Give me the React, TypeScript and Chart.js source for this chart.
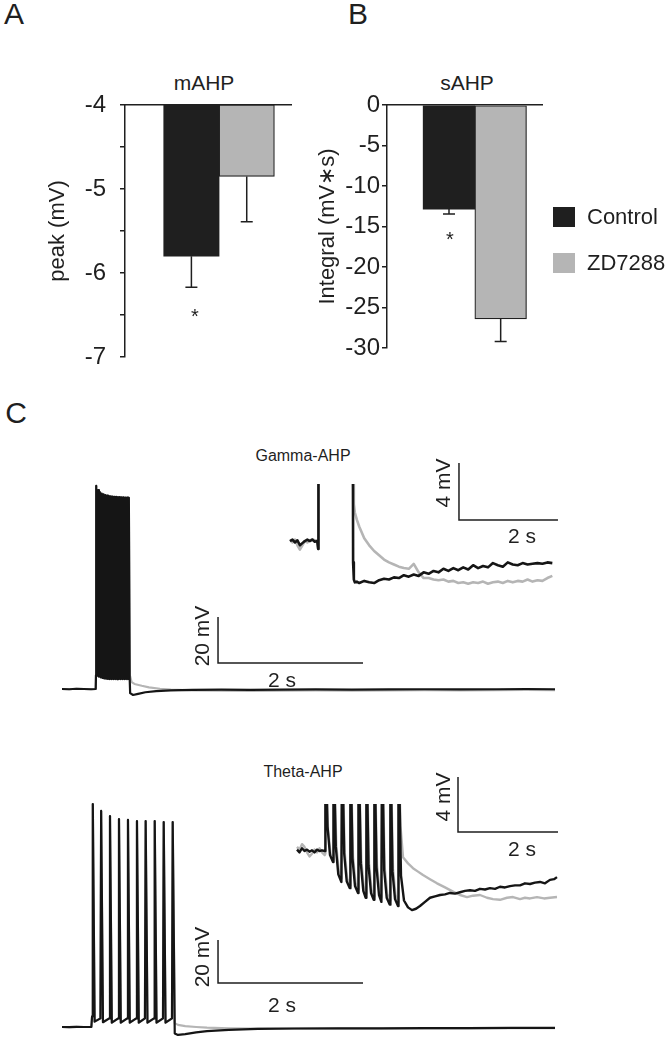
import React, { useEffect, useRef } from 'react';
import { Chart, registerables } from 'chart.js';

Chart.register(...registerables);

const FONT = '"Liberation Sans", Arial, Helvetica, sans-serif';
const INK = '#1f1f1f';
const GREY = '#b5b5b5';

// ---------- Panels A & B (bar charts) ----------
const groups = ['Control', 'ZD7288'];
const groupPositions = [1.2, 2.2];
const groupColors = [INK, GREY];
const mahpMeans = [-5.8, -4.85];
const mahpSem = [0.37, 0.54];
const sahpMeans = [-12.85, -26.4];
const sahpSem = [0.6, 2.8];

// ---------- Panel C traces: [time (s), membrane potential (mV)] ----------
const gammaPre: [number, number][] = [[0, -65], [0.1, -65.1], [0.2, -64.9], [0.3, -65.0], [0.4, -65.1], [0.465, -65.0], [0.469, -58.9]];
const gammaBurst: [number, number][] = [
  [0.472, 23.3], [0.484, -59.2], [0.497, 21.5], [0.509, -59.6], [0.522, 20.6], [0.534, -59.9], [0.547, 20.0], [0.559, -60.2],
  [0.572, 19.6], [0.584, -60.4], [0.597, 19.3], [0.609, -60.5], [0.622, 19.1], [0.634, -60.6], [0.647, 18.9], [0.659, -60.7],
  [0.672, 18.8], [0.684, -60.7], [0.697, 18.7], [0.709, -60.7], [0.722, 18.6], [0.734, -60.7], [0.747, 18.5], [0.759, -60.7],
  [0.772, 18.4], [0.784, -60.7], [0.797, 18.4], [0.809, -60.7], [0.822, 18.3], [0.834, -60.7], [0.847, 18.3], [0.859, -60.7],
  [0.872, 18.2], [0.884, -60.7], [0.897, 18.2], [0.909, -60.7], [0.922, 18.1], [0.934, -60.7],
];
const gammaControlPost: [number, number][] = [[0.94, -66.8], [0.98, -67.6], [1.05, -67.1], [1.15, -66.4], [1.3, -65.9], [1.5, -65.6], [1.8, -65.4], [2.2, -65.3], [2.6, -65.4], [3.0, -65.3], [3.5, -65.2], [4.0, -65.3], [4.5, -65.2], [5.0, -65.1], [5.5, -65.2], [6.0, -65.1], [6.4, -65.0], [6.8, -65.1]];
const gammaZDPost: [number, number][] = [[0.94, -59.5], [0.96, -62.0], [1.0, -62.8], [1.1, -63.6], [1.2, -64.3], [1.35, -64.9], [1.5, -65.3], [1.8, -65.6], [2.2, -65.7], [2.6, -65.8], [3.0, -65.7], [3.5, -65.6], [4.0, -65.7], [4.5, -65.6], [5.0, -65.5], [5.5, -65.6], [6.0, -65.5], [6.4, -65.4], [6.8, -65.5]];

const gammaInsetControl: [number, number | null][] = [
  [0, 0], [0.05, 0.1], [0.1, -0.1], [0.15, 0.05], [0.2, -0.3], [0.25, -0.15], [0.3, 0], [0.35, 0.1], [0.4, 0], [0.45, 0.1], [0.5, -0.05], [0.55, 0], [0.57, -0.56], [0.575, 8],
  [0.9, null],
  [1.27, 8], [1.275, -1.5], [1.29, -2.7], [1.31, -2.9], [1.35, -2.85], [1.4, -2.95], [1.5, -2.8], [1.6, -2.9], [1.7, -2.95], [1.8, -2.75], [1.9, -2.65], [2.0, -2.7], [2.1, -2.55], [2.2, -2.6], [2.3, -2.4], [2.4, -2.5], [2.5, -2.35], [2.6, -2.45], [2.7, -2.2], [2.8, -2.3], [2.9, -2.1], [3.0, -2.2], [3.1, -1.95], [3.2, -2.1], [3.3, -1.9], [3.4, -2.05], [3.5, -1.85], [3.6, -2.0], [3.7, -1.7], [3.8, -1.9], [3.9, -1.75], [4.0, -1.85], [4.1, -1.55], [4.2, -1.7], [4.3, -1.8], [4.4, -1.5], [4.5, -1.65], [4.6, -1.7], [4.7, -1.55], [4.8, -1.65], [4.9, -1.6], [5.0, -1.55], [5.1, -1.6], [5.2, -1.5], [5.3, -1.55],
];
const gammaInsetZD: [number, number | null][] = [
  [0, 0.1], [0.05, -0.1], [0.1, 0.1], [0.15, -0.3], [0.2, -0.6], [0.25, -0.3], [0.3, 0], [0.35, -0.1], [0.4, 0.05], [0.45, 0.1], [0.5, 0.05], [0.55, 0], [0.57, -0.56], [0.575, 8],
  [0.9, null],
  [1.27, 8], [1.275, 4], [1.29, 2.6], [1.31, 2.0], [1.35, 1.5], [1.4, 1.0], [1.5, 0.2], [1.6, -0.3], [1.7, -0.7], [1.8, -1.0], [1.9, -1.3], [2.0, -1.5], [2.1, -1.65], [2.2, -1.8], [2.3, -1.9], [2.4, -1.95], [2.5, -1.6], [2.6, -2.2], [2.7, -2.6], [2.8, -2.6], [2.9, -2.7], [3.0, -2.75], [3.1, -2.7], [3.2, -2.85], [3.3, -2.8], [3.4, -2.95], [3.5, -2.9], [3.6, -3.0], [3.7, -2.9], [3.8, -2.95], [3.9, -2.85], [4.0, -3.0], [4.1, -2.9], [4.2, -2.85], [4.3, -2.95], [4.4, -2.8], [4.5, -2.9], [4.6, -2.8], [4.7, -2.85], [4.8, -2.7], [4.9, -2.85], [5.0, -2.75], [5.1, -2.8], [5.2, -2.6], [5.3, -2.45],
];

const thetaPre: [number, number][] = [[0, -65], [0.1, -65.1], [0.2, -64.9], [0.3, -65.0], [0.405, -65.0]];
const thetaBurst: [number, number][] = [
  [0.415, -60], [0.425, 38.7], [0.45, -62.5],
  [0.53, -61], [0.54, 35.5], [0.565, -62.8],
  [0.652, -61], [0.662, 33.1], [0.687, -63],
  [0.776, -61], [0.786, 31.7], [0.811, -63],
  [0.9, -61], [0.91, 31.3], [0.935, -63],
  [1.024, -61], [1.034, 30.8], [1.059, -63],
  [1.144, -61], [1.154, 30.8], [1.179, -63],
  [1.269, -61], [1.279, 30.8], [1.304, -63],
  [1.393, -61], [1.403, 30.3], [1.428, -63],
  [1.517, -61], [1.527, 30.3],
];
const thetaControlPost: [number, number][] = [[1.555, -68.0], [1.6, -68.7], [1.7, -68.3], [1.85, -67.5], [2.0, -66.9], [2.3, -66.3], [2.7, -65.9], [3.2, -65.7], [3.8, -65.6], [4.4, -65.6], [5.0, -65.5], [5.6, -65.5], [6.2, -65.4], [6.8, -65.4]];
const thetaZDPost: [number, number][] = [[1.555, -63.2], [1.6, -64.0], [1.7, -64.6], [1.85, -65.0], [2.0, -65.3], [2.3, -65.6], [2.7, -65.8], [3.2, -65.8], [3.8, -65.7], [4.4, -65.7], [5.0, -65.6], [5.6, -65.6], [6.2, -65.5], [6.8, -65.5]];

const thetaInsetControl: [number, number][] = [
  [0, 0.1], [0.05, -0.1], [0.1, 0.2], [0.15, 0.0], [0.2, 0.1], [0.25, -0.05], [0.3, 0.05], [0.35, -0.1], [0.4, 0.1], [0.45, 0.0], [0.5, 0.05], [0.555, 0.0],
  [0.56, 0.0], [0.568, 8], [0.61, 1.8], [0.66, -0.3], [0.72, -0.8],
  [0.726, -0.8], [0.734, 8], [0.776, 0.3], [0.826, -1.7], [0.888, -2.25],
  [0.894, -2.25], [0.902, 8], [0.944, -0.2], [0.994, -2.2], [1.054, -2.7],
  [1.06, -2.7], [1.068, 8], [1.11, -0.55], [1.16, -2.55], [1.22, -3.05],
  [1.226, -3.05], [1.234, 8], [1.276, -0.9], [1.326, -2.9], [1.374, -3.4],
  [1.38, -3.4], [1.388, 8], [1.43, -1.05], [1.48, -3.05], [1.534, -3.55],
  [1.54, -3.55], [1.548, 8], [1.59, -1.2], [1.64, -3.2], [1.688, -3.7],
  [1.694, -3.7], [1.702, 8], [1.744, -1.4], [1.794, -3.4], [1.854, -3.9],
  [1.86, -3.9], [1.868, 8], [1.91, -1.5], [1.96, -3.5], [2.02, -4.0],
  [2.026, -4.0], [2.034, 8],
  [2.08, -1.8], [2.14, -3.6], [2.22, -4.1], [2.3, -4.3], [2.38, -4.2], [2.46, -4.0], [2.56, -3.7], [2.66, -3.4], [2.76, -3.3], [2.86, -3.2], [2.96, -3.15], [3.06, -3.05], [3.16, -3.1], [3.26, -3.0], [3.36, -2.9], [3.46, -2.85], [3.56, -2.9], [3.66, -2.75], [3.76, -2.8], [3.86, -2.7], [3.96, -2.75], [4.06, -2.6], [4.16, -2.65], [4.26, -2.55], [4.36, -2.5], [4.46, -2.5], [4.56, -2.35], [4.66, -2.4], [4.76, -2.3], [4.86, -2.25], [4.96, -2.35], [5.06, -2.1], [5.14, -2.05], [5.2, -1.9],
];
const thetaInsetZD: [number, number][] = [
  [0, 0.3], [0.05, 0.1], [0.1, 0.5], [0.15, 0.3], [0.2, -0.1], [0.25, -0.4], [0.3, -0.2], [0.35, 0.1], [0.4, -0.1], [0.45, 0.2], [0.5, -0.1], [0.555, -0.3],
  [0.56, -0.2], [0.568, 8], [0.62, 1.6], [0.67, -0.2], [0.72, -0.6],
  [0.726, -0.6], [0.734, 8], [0.786, 0.4], [0.836, -1.5], [0.888, -2.0],
  [0.894, -2.0], [0.902, 8], [0.954, -0.1], [1.004, -2.0], [1.054, -2.5],
  [1.06, -2.5], [1.068, 8], [1.12, -0.4], [1.17, -2.3], [1.22, -2.8],
  [1.226, -2.8], [1.234, 8], [1.286, -0.7], [1.336, -2.6], [1.374, -3.1],
  [1.38, -3.1], [1.388, 8], [1.44, -0.9], [1.49, -2.8], [1.534, -3.3],
  [1.54, -3.3], [1.548, 8], [1.6, -1.0], [1.65, -2.9], [1.688, -3.4],
  [1.694, -3.4], [1.702, 8], [1.754, -1.2], [1.804, -3.1], [1.854, -3.6],
  [1.86, -3.6], [1.868, 8], [1.92, -1.3], [1.97, -3.2], [2.02, -3.7],
  [2.026, -3.7], [2.034, 8],
  [2.07, 1.8], [2.12, -0.45], [2.22, -0.9], [2.32, -1.25], [2.42, -1.5], [2.52, -1.75], [2.66, -2.05], [2.8, -2.35], [2.96, -2.65], [3.12, -2.95], [3.26, -3.2], [3.4, -3.35], [3.52, -3.25], [3.66, -3.2], [3.8, -3.4], [3.92, -3.5], [4.06, -3.55], [4.2, -3.4], [4.32, -3.35], [4.46, -3.5], [4.56, -3.4], [4.66, -3.45], [4.8, -3.35], [4.94, -3.45], [5.06, -3.4], [5.2, -3.35],
];

// scale bars: [origin time, origin mV, length s, length mV]
const gammaMainBar = [2.152, -53.7, 2, 20];
const thetaMainBar = [2.152, -44.5, 2, 20];
const gammaInsetBar = [3.414, 1.474, 2, 4];
const thetaInsetBar = [3.22, 1.382, 2, 4];

// ---------- plugins ----------
const errorBarPlugin = {
  id: 'errorBars',
  afterDatasetsDraw(chart: any) {
    const { ctx } = chart;
    const yScale = chart.scales.y;
    ctx.save();
    ctx.strokeStyle = INK;
    ctx.lineWidth = 1.5;
    chart.data.datasets.forEach((ds: any, i: number) => {
      const meta = chart.getDatasetMeta(i);
      meta.data.forEach((bar: any, j: number) => {
        const mean = ds.data[j].y[1];
        const err = ds.errors[j];
        const y0 = yScale.getPixelForValue(mean);
        const y1 = yScale.getPixelForValue(mean - err);
        ctx.beginPath();
        ctx.moveTo(bar.x, y0);
        ctx.lineTo(bar.x, y1);
        ctx.moveTo(bar.x - 6, y1);
        ctx.lineTo(bar.x + 6, y1);
        ctx.stroke();
      });
    });
    ctx.restore();
  },
};

function BarPanel(props: any) {
  const ref = useRef<HTMLCanvasElement>(null);
  const { box, axisWidth, padRight, means, sem, base, yMin, yMax, step, intOnly, yTitle, titlePad, tickPad } = props;
  useEffect(() => {
    const chart = new Chart(ref.current!, {
      type: 'bar',
      data: {
        datasets: groups.map((g, i) => ({
          label: g,
          data: [{ x: groupPositions[i], y: [base, means[i]] }],
          errors: [sem[i]],
          backgroundColor: groupColors[i],
          borderColor: INK,
          borderWidth: i === 0 ? 0 : 1.2,
          borderSkipped: false,
          grouped: false,
          barPercentage: 1,
          categoryPercentage: 1,
        })) as any,
      },
      options: {
        animation: false,
        responsive: false,
        events: [],
        layout: { padding: { top: 30, bottom: 30, left: 0, right: padRight } },
        plugins: { legend: { display: false }, tooltip: { enabled: false } },
        scales: {
          x: {
            type: 'linear', position: 'top', min: 0, max: 3, offset: false,
            ticks: { display: false, stepSize: 1 },
            grid: { display: false, drawTicks: false },
            border: { display: true, color: INK, width: 1.5 },
            afterFit: (s: any) => { s.height = 0; },
          },
          y: {
            type: 'linear', min: yMin, max: yMax,
            ticks: {
              stepSize: step, color: INK, padding: tickPad,
              font: { size: 24, family: FONT },
              callback: (v: any) => (intOnly && !Number.isInteger(v) ? '' : String(v)),
            },
            grid: { drawOnChartArea: false, drawTicks: true, tickLength: 5, color: INK, lineWidth: 1.5 },
            border: { display: true, color: INK, width: 1.5 },
            title: { display: true, text: yTitle, color: INK, font: { size: 22, family: FONT }, padding: { top: titlePad, bottom: 0 } },
            afterFit: (s: any) => { s.width = axisWidth; },
          },
        },
      } as any,
      plugins: [errorBarPlugin],
    });
    return () => chart.destroy();
  }, []);
  return (
    <div style={{ position: 'absolute', left: box[0], top: box[1], width: box[2], height: box[3] }}>
      <canvas ref={ref} width={box[2]} height={box[3]} />
    </div>
  );
}

function TraceChart(props: any) {
  const ref = useRef<HTMLCanvasElement>(null);
  const { box, padTop, xr, yr, traces, bar } = props;
  useEffect(() => {
    const datasets: any[] = traces.map((tr: any) => ({
      label: tr.label,
      data: tr.points.map((p: any) => ({ x: p[0], y: p[1] })),
      borderColor: tr.color,
      borderWidth: tr.width,
      pointRadius: 0,
      tension: 0,
      spanGaps: false,
      borderJoinStyle: 'round',
      borderCapStyle: 'butt',
    }));
    datasets.push({
      label: 'scale bar',
      data: [
        { x: bar[0], y: bar[1] + bar[3] },
        { x: bar[0], y: bar[1] },
        { x: bar[0] + bar[2], y: bar[1] },
      ],
      borderColor: INK,
      borderWidth: 1.5,
      pointRadius: 0,
      tension: 0,
      clip: false,
      borderJoinStyle: 'miter',
    });
    const chart = new Chart(ref.current!, {
      type: 'line',
      data: { datasets },
      options: {
        animation: false,
        responsive: false,
        events: [],
        layout: { padding: { top: padTop, left: 0, right: 0, bottom: 0 } },
        plugins: { legend: { display: false }, tooltip: { enabled: false } },
        scales: {
          x: { type: 'linear', min: xr[0], max: xr[1], display: false },
          y: { type: 'linear', min: yr[0], max: yr[1], display: false },
        },
      } as any,
    });
    return () => chart.destroy();
  }, []);
  return (
    <div style={{ position: 'absolute', left: box[0], top: box[1], width: box[2], height: box[3] }}>
      <canvas ref={ref} width={box[2]} height={box[3]} />
    </div>
  );
}

function Label({ x, y, size, text, rotate, left }: any) {
  return (
    <div
      style={{
        position: 'absolute', left: x, top: y, fontFamily: FONT, fontSize: size, lineHeight: 1,
        color: INK, whiteSpace: 'nowrap',
        transform: `${left ? 'translate(0,-50%)' : 'translate(-50%,-50%)'}${rotate ? ' rotate(-90deg)' : ''}`,
      }}
    >
      {text}
    </div>
  );
}

export default function App() {
  return (
    <div style={{ position: 'absolute', left: 0, top: 0, width: 672, height: 1050, background: '#fff', overflow: 'hidden' }}>
      <Label x={14} y={14} size={30} text="A" />
      <Label x={358} y={14} size={30} text="B" />
      <Label x={16} y={413} size={30} text="C" />

      <Label x={204} y={82} size={21} text="mAHP" />
      <Label x={467} y={82} size={21} text="sAHP" />

      <BarPanel box={[0, 75, 300, 312]} axisWidth={125} padRight={9} means={mahpMeans} sem={mahpSem} base={-4}
        yMin={-7} yMax={-4} step={0.5} intOnly yTitle="peak (mV)" titlePad={45} tickPad={14} />
      <BarPanel box={[300, 75, 260, 303]} axisWidth={87} padRight={18} means={sahpMeans} sem={sahpSem} base={0}
        yMin={-30} yMax={0} step={5} intOnly={false} yTitle="Integral (mV∗s)" titlePad={15} tickPad={2} />

      <Label x={195} y={316} size={20} text="*" />
      <Label x={450} y={239} size={20} text="*" />

      {groups.map((g, i) => (
        <React.Fragment key={g}>
          <div style={{ position: 'absolute', left: 553, top: 207 + i * 46, width: 22, height: 20, background: groupColors[i] }} />
          <Label x={587} y={217 + i * 46} size={22} text={g} left />
        </React.Fragment>
      ))}

      <Label x={303} y={456} size={16} text="Gamma-AHP" />
      <Label x={303} y={772} size={16} text="Theta-AHP" />

      <TraceChart box={[40, 420, 530, 280]} padTop={0} xr={[-0.30345, 7.0069]} yr={[-69.78, 51.96]} bar={gammaMainBar}
        traces={[
          { label: 'Control', color: '#151515', width: 2.2, points: [...gammaPre, ...gammaBurst, ...gammaControlPost] },
          { label: 'ZD7288', color: GREY, width: 2.2, points: [...gammaPre, ...gammaBurst, ...gammaZDPost] },
        ]} />
      <TraceChart box={[280, 455, 290, 145]} padTop={29} xr={[-0.202, 5.657]} yr={[-4.14, 4.0]} bar={gammaInsetBar}
        traces={[
          { label: 'Control', color: '#151515', width: 2.6, points: gammaInsetControl },
          { label: 'ZD7288', color: GREY, width: 2.6, points: gammaInsetZD },
        ]} />
      <TraceChart box={[40, 790, 530, 255]} padTop={0} xr={[-0.30345, 7.0069]} yr={[-73.37, 45.23]} bar={thetaMainBar}
        traces={[
          { label: 'Control', color: '#151515', width: 2.2, points: [...thetaPre, ...thetaBurst, ...thetaControlPost] },
          { label: 'ZD7288', color: GREY, width: 2.2, points: [...thetaPre, ...thetaBurst, ...thetaZDPost] },
        ]} />
      <TraceChart box={[280, 770, 290, 160]} padTop={34} xr={[-0.34, 5.46]} yr={[-5.745, 3.418]} bar={thetaInsetBar}
        traces={[
          { label: 'Control', color: '#151515', width: 2.4, points: thetaInsetControl },
          { label: 'ZD7288', color: GREY, width: 2.4, points: thetaInsetZD },
        ]} />

      <Label x={201} y={636} size={21} text="20 mV" rotate />
      <Label x={282} y={679} size={21} text="2 s" />
      <Label x={201} y={957} size={21} text="20 mV" rotate />
      <Label x={282} y={1004} size={21} text="2 s" />
      <Label x={442} y={483} size={21} text="4 mV" rotate />
      <Label x={522} y={535} size={21} text="2 s" />
      <Label x={442} y={797} size={21} text="4 mV" rotate />
      <Label x={522} y={848} size={21} text="2 s" />
    </div>
  );
}
